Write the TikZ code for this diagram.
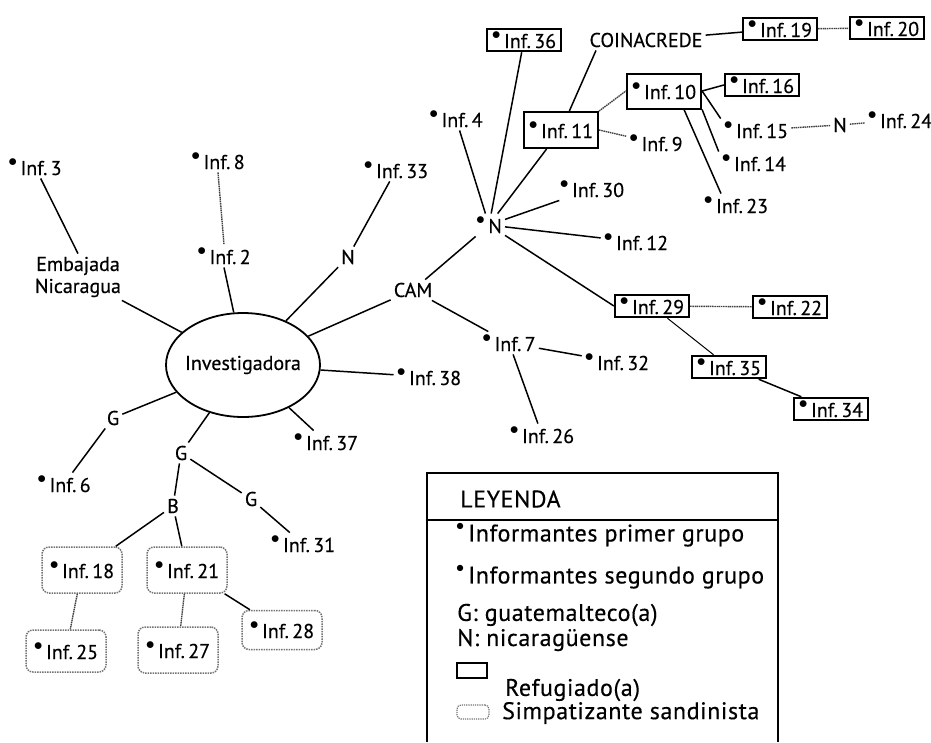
\documentclass[tikz,border=0pt]{standalone}
\usepackage{fontspec}
\setmainfont{PT Sans}[FakeBold=0.4]
\usepackage{graphicx}
\usetikzlibrary{shapes.geometric}

% punto de informante
\newcommand{\pto}{\raisebox{0.42em}{\scalebox{0.85}{$\bullet$}}}
\newcommand{\ptoley}{\raisebox{0.45em}{\scalebox{0.65}{$\bullet$}}}
\newcommand{\infm}[1]{\pto\,Inf.\,#1}

\tikzset{
  informante/.style={inner sep=3pt, font=\fontsize{20}{22}\selectfont},
  refugiado/.style={informante, draw, line width=2pt, inner xsep=5pt, inner ysep=3pt},
  simpatizante/.style={informante, draw=black!55, densely dotted, line width=1.5pt,
    rounded corners=7pt, minimum width=80pt, minimum height=42pt},
  enlace/.style={line width=1.5pt},
  enlacefino/.style={line width=1.4pt, black!75, dash pattern=on 1.5pt off 0.7pt},
  leyenda/.style={anchor=west, inner sep=0pt,
    font=\fontsize{24}{26}\selectfont\addfontfeatures{LetterSpace=2.5}},
}

\begin{document}
\begin{tikzpicture}[x=1pt,y=-1pt]
  \useasboundingbox (0,0) rectangle (931,742);

  % centro
  \node[draw, ellipse, line width=1.8pt, inner sep=0pt, minimum width=154pt,
        minimum height=104pt, font=\fontsize{20}{22}\selectfont]
        (inv) at (243,365) {\makebox[0pt]{Investigadora}};

  % lado izquierdo
  \node[informante] (inf3) at (35,167) {\infm{3}};
  \node[informante, align=center] (emb) at (78,277) {Embajada\\Nicaragua};
  \node[informante] (inf8) at (218,161) {\infm{8}};
  \node[informante] (inf2) at (224,256) {\infm{2}};
  \node[informante] (inf33) at (396,170) {\infm{33}};
  \node[informante] (nizq) at (348,257) {N};
  \node[informante] (cam) at (413,290) {CAM};
  \node[informante] (inf38) at (429,377) {\infm{38}};
  \node[informante] (inf37) at (326,442) {\infm{37}};
  \node[informante] (gizq) at (113,418) {G};
  \node[informante] (inf6) at (64,484) {\infm{6}};
  \node[informante] (gabj) at (181,453) {G};
  \node[informante] (gder) at (251,499) {G};
  \node[informante] (inf31) at (303,544) {\infm{31}};
  \node[informante] (b) at (173,506) {B};
  \node[simpatizante, minimum height=46pt] (inf18) at (82,570) {\infm{18}};
  \node[simpatizante, minimum height=46pt] (inf21) at (187,570) {\infm{21}};
  \node[simpatizante, minimum height=39pt] (inf28) at (282,630) {\infm{28}};
  \node[simpatizante] (inf25) at (66,651) {\infm{25}};
  \node[simpatizante, minimum height=46pt] (inf27) at (178,650) {\infm{27}};

  % lado derecho
  \node[informante] (nhub) at (489,225) {\pto\,N};
  \node[informante] (inf4) at (456,119) {\infm{4}};
  \node[refugiado] (inf36) at (524,40) {\infm{36}};
  \node[informante] (coin) at (646,40) {COINACREDE};
  \node[refugiado] (inf19) at (780,29) {\infm{19}};
  \node[refugiado] (inf20) at (887,28) {\infm{20}};
  \node[refugiado, minimum height=36pt] (inf11) at (561,130) {\infm{11}};
  \node[refugiado, minimum height=35pt] (inf10) at (664,91) {\infm{10}};
  \node[refugiado] (inf16) at (762,85) {\infm{16}};
  \node[informante] (inf9) at (656,143) {\infm{9}};
  \node[informante] (inf15) at (756,130) {\infm{15}};
  \node[informante] (nder) at (840,125) {N};
  \node[informante] (inf24) at (900,120) {\infm{24}};
  \node[informante] (inf14) at (754,163) {\infm{14}};
  \node[informante] (inf23) at (736,205) {\infm{23}};
  \node[informante] (inf30) at (592,189) {\infm{30}};
  \node[informante] (inf12) at (636,242) {\infm{12}};
  \node[refugiado] (inf29) at (652,306) {\infm{29}};
  \node[refugiado] (inf22) at (790,307) {\infm{22}};
  \node[refugiado] (inf35) at (729,367) {\infm{35}};
  \node[refugiado] (inf34) at (831,409) {\infm{34}};
  \node[informante] (inf7) at (509,343) {\infm{7}};
  \node[informante] (inf32) at (617,362) {\infm{32}};
  \node[informante] (inf26) at (542,435) {\infm{26}};

  % enlaces
  \draw[enlace] (inf3) -- (emb.north);
  \draw[enlacefino] (inf8.south) -- (inf2.north);
  \draw[enlace] (inf2.south) -- (inv.100);
  \draw[enlace] (inf33) -- (nizq);
  \draw[enlace] (nizq) -- (inv);
  \draw[enlace] (cam) -- (inv);
  \draw[enlace] (emb) -- (inv);
  \draw[enlace] (inv) -- (inf38);
  \draw[enlace] (inv) -- (gizq);
  \draw[enlace] (gizq) -- (inf6);
  \draw[enlace] (inv) -- (inf37);
  \draw[enlace] (inv) -- (gabj);
  \draw[enlace] (gabj) -- (b);
  \draw[enlace] (gabj) -- (gder);
  \draw[enlace] (gder) -- (inf31);
  \draw[enlace] (b) -- (inf18);
  \draw[enlace] (b) -- (inf21);
  \draw[enlacefino] (inf18) -- (inf25);
  \draw[enlacefino] (inf21) -- (inf27);
  \draw[enlace] (inf21) -- (inf28);

  \draw[enlace] (nhub) -- (cam);
  \draw[enlace] (cam) -- (inf7);
  \draw[enlace] (inf7) -- (inf32);
  \draw[enlace] (inf7) -- (inf26);
  \draw[enlace] (nhub) -- (inf30);
  \draw[enlace] (nhub) -- (inf12);
  \draw[enlace] (nhub) -- (inf29.west);
  \draw[enlacefino] (inf29) -- (inf22);
  \draw[line width=1pt] (inf29) -- (inf35);
  \draw[enlace] (inf35) -- (inf34);
  \draw[enlace] (nhub) -- (inf4);
  \draw[enlace] (nhub) -- (inf36);
  \draw[enlace] (nhub) -- (inf11);
  \draw[enlace] (inf11) -- ([xshift=-50pt]coin.south);
  \draw[enlace] (coin) -- (inf19);
  \draw[enlacefino] (inf19) -- (inf20);
  \draw[enlacefino] (inf11.north east) -- (inf10.west);
  \draw[enlacefino] (inf11.east) -- (inf9);
  \draw[enlace] (inf10.east) -- (inf16.west);
  \draw[enlace] (inf10.east) -- (inf15.north west);
  \draw[enlace] (inf10.south east) -- (inf14.north west);
  \draw[enlace] ([xshift=20pt]inf10.south) -- ([xshift=-15pt]inf23.north);
  \draw[enlacefino] (inf15) -- (nder);
  \draw[enlacefino] (nder) -- (inf24);

  % leyenda
  \draw[line width=1.5pt] (427,742) |- (778,473) -- (778,742);
  \draw[line width=1.5pt] (427,520) -- (778,520);
  \node[leyenda] (ley) at (460,499) {LEYENDA};
  \node[leyenda] (ley1) at (456,535) {\ptoley\,Informantes primer grupo};
  \node[leyenda] (ley2) at (456,577) {\ptoley\,Informantes segundo grupo};
  \node[leyenda] (ley3) at (457,615) {G: guatemalteco(a)};
  \node[leyenda] (ley4) at (457,640) {N: nicaragüense};
  \node[draw, line width=2pt, minimum width=30pt, minimum height=15pt, inner sep=0pt]
    (cajaref) at (472,670) {};
  \node[leyenda] (ley5) at (505,690) {Refugiado(a)};
  \node[draw=black!55, densely dotted, line width=1.2pt, rounded corners=4pt,
    minimum width=32pt, minimum height=14pt, inner sep=0pt] (cajasim) at (473,712) {};
  \node[leyenda] (ley6) at (502,713) {Simpatizante sandinista};
\end{tikzpicture}
\end{document}
